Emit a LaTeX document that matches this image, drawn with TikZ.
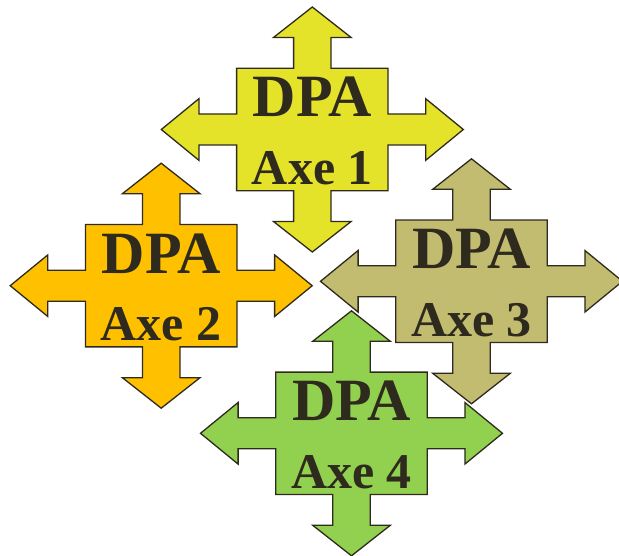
\documentclass[tikz,border=0pt]{standalone}
\usepackage{fontspec}
\setmainfont{Liberation Serif}

\definecolor{axeyellow}{RGB}{229,226,42}
\definecolor{axeorange}{RGB}{255,192,0}
\definecolor{axekhaki}{RGB}{194,188,112}
\definecolor{axegreen}{RGB}{146,208,80}
\definecolor{inkdark}{RGB}{46,42,30}

\begin{document}
\begin{tikzpicture}[x=1pt, y=-1pt]
    \tikzset{%
      quadarrow/.pic={
        \path [pic actions] (0,-122.5) -- (38.8,-92) -- (18.7,-92) -- (18.7,-61.2)
          -- (75.7,-61.2) -- (75.7,-15.5) -- (113.4,-15.5) -- (113.4,-30.8)
          -- (151,0) -- (113.4,30.8) -- (113.4,15.5) -- (75.7,15.5)
          -- (75.7,61.2) -- (18.7,61.2) -- (18.7,92) -- (38.8,92)
          -- (0,122.5) -- (-38.8,92) -- (-18.7,92) -- (-18.7,61.2)
          -- (-75.7,61.2) -- (-75.7,15.5) -- (-113.4,15.5) -- (-113.4,30.8)
          -- (-151,0) -- (-113.4,-30.8) -- (-113.4,-15.5) -- (-75.7,-15.5)
          -- (-75.7,-61.2) -- (-18.7,-61.2) -- (-18.7,-92) -- (-38.8,-92) -- cycle;
      },
      crossarrow/.style={draw=inkdark, line width=1.3pt, line join=miter},
      dpa/.style={anchor=base, inner sep=0pt, text=inkdark,
        font=\fontsize{60}{60}\selectfont\bfseries},
      axe/.style={anchor=base, inner sep=0pt, text=inkdark,
        font=\fontsize{50}{50}\selectfont\bfseries}
      }
    \useasboundingbox (0,0) rectangle (619,556);

    % Axe 1
    \pic [crossarrow, fill=axeyellow] (A1) at (312.3,129.5) {quadarrow};
    \node [dpa] (dpa1) at (312.3,116.9) {DPA};
    \node [axe] (axe1) at (312.3,184.5) {Axe 1};

    % Axe 2
    \pic [crossarrow, fill=axeorange] (A2) at (161.2,285.7) {quadarrow};
    \node [dpa] (dpa2) at (161.2,273.1) {DPA};
    \node [axe] (axe2) at (161.2,340.7) {Axe 2};

    % Axe 3
    \pic [crossarrow, fill=axekhaki] (A3) at (471.5,281.3) {quadarrow};
    \node [dpa] (dpa3) at (471.5,268.7) {DPA};
    \node [axe] (axe3) at (471.5,336.3) {Axe 3};

    % Axe 4
    \pic [crossarrow, fill=axegreen] (A4) at (351.5,433.3) {quadarrow};
    \node [dpa] (dpa4) at (351.5,420.7) {DPA};
    \node [axe] (axe4) at (351.5,488.3) {Axe 4};

  \end{tikzpicture}
\end{document}
